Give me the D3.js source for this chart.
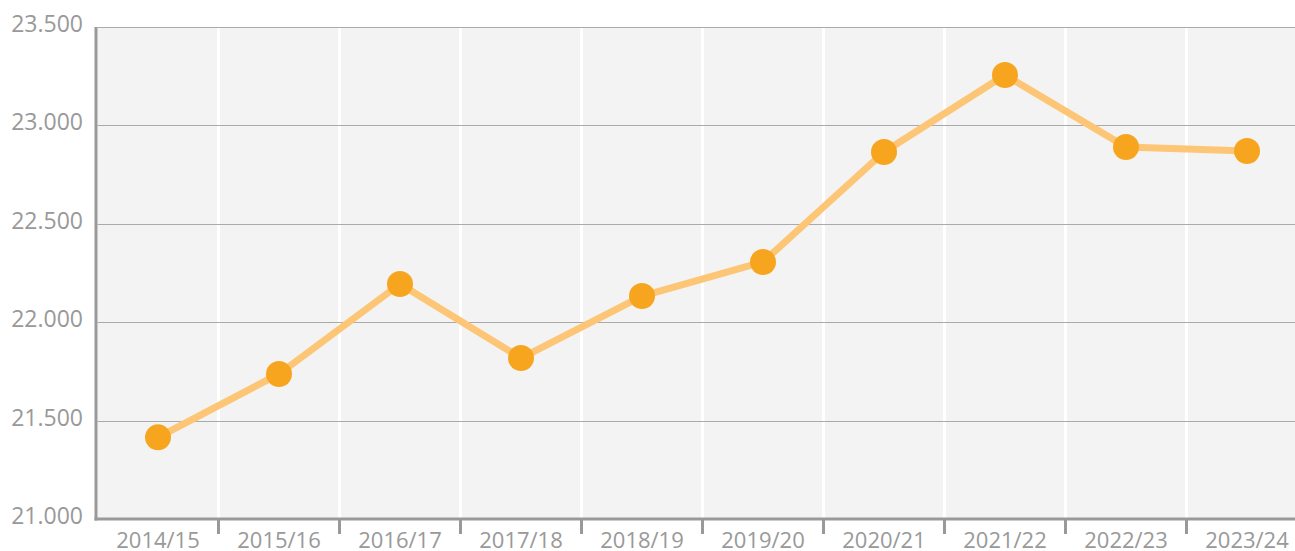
<!DOCTYPE html>
<html><head><meta charset="utf-8">
<script src="https://cdn.jsdelivr.net/npm/d3@7"></script>
<style>body{margin:0;background:#fff;} text{font-family:"Open Sans",sans-serif;}</style>
</head><body>
<svg id="c" width="1295" height="551"></svg>
<script>
const categories = ["2014/15","2015/16","2016/17","2017/18","2018/19","2019/20","2020/21","2021/22","2022/23","2023/24"];
const values = [21415, 21737, 22194, 21818, 22133, 22306, 22865, 23256, 22890, 22870];
const yTicks = [21000, 21500, 22000, 22500, 23000, 23500];
const yTickLabels = ["21.000","21.500","22.000","22.500","23.000","23.500"];

(function () {
const svg = d3.select("#c");
const pLeft = 97.5, pTop = 27, pBottom = 519, bandW = 121;
const x = d3.scaleBand().domain(categories).range([pLeft, pLeft + bandW * categories.length]).padding(0);
const y = d3.scaleLinear().domain([21000, 23500]).range([pBottom, pTop]);

// background
svg.append("rect").attr("x", pLeft).attr("y", pTop).attr("width", x.range()[1] - pLeft).attr("height", pBottom - pTop).attr("fill", "#f3f3f3");

// vertical white gridlines at band boundaries
svg.append("g").selectAll("line").data(categories.slice(1)).join("line")
  .attr("x1", d => x(d)).attr("x2", d => x(d)).attr("y1", pTop).attr("y2", pBottom)
  .attr("stroke", "#fff").attr("stroke-width", 3);

// horizontal gridlines
svg.append("g").selectAll("line").data(yTicks.slice(1)).join("line")
  .attr("x1", pLeft).attr("x2", x.range()[1]).attr("y1", d => Math.round(y(d)) + 0.5).attr("y2", d => Math.round(y(d)) + 0.5)
  .attr("stroke", "#aaaaaa").attr("stroke-width", 1);

// y labels
svg.append("g").selectAll("text").data(yTicks).join("text")
  .attr("x", 83).attr("y", d => y(d) + 5).attr("text-anchor", "end")
  .attr("font-size", 23).attr("fill", "#999").text((d, i) => yTickLabels[i]);

// axes lines
svg.append("line").attr("x1", 96).attr("x2", 96).attr("y1", pTop).attr("y2", pBottom + 1.5).attr("stroke", "#999").attr("stroke-width", 3);
svg.append("line").attr("x1", 94.5).attr("x2", 1295).attr("y1", pBottom).attr("y2", pBottom).attr("stroke", "#999").attr("stroke-width", 3);

// x ticks
svg.append("g").selectAll("line").data(categories.slice(1)).join("line")
  .attr("x1", d => x(d)).attr("x2", d => x(d)).attr("y1", pBottom).attr("y2", pBottom + 15)
  .attr("stroke", "#999").attr("stroke-width", 3);

// x labels
svg.append("g").selectAll("text").data(categories).join("text")
  .attr("x", d => x(d) + x.bandwidth() / 2).attr("y", 548).attr("text-anchor", "middle")
  .attr("font-size", 22).attr("fill", "#999").text(d => d);

// line
const line = d3.line().x((d, i) => x(categories[i]) + x.bandwidth() / 2).y(d => y(d));
svg.append("path").datum(values).attr("d", line).attr("fill", "none")
  .attr("stroke", "#fdc676").attr("stroke-width", 7).attr("stroke-linejoin", "round");

// points
svg.append("g").selectAll("circle").data(values).join("circle")
  .attr("cx", (d, i) => x(categories[i]) + x.bandwidth() / 2).attr("cy", d => y(d)).attr("r", 13)
  .attr("fill", "#f7a51e");
})();
</script>
</body></html>
